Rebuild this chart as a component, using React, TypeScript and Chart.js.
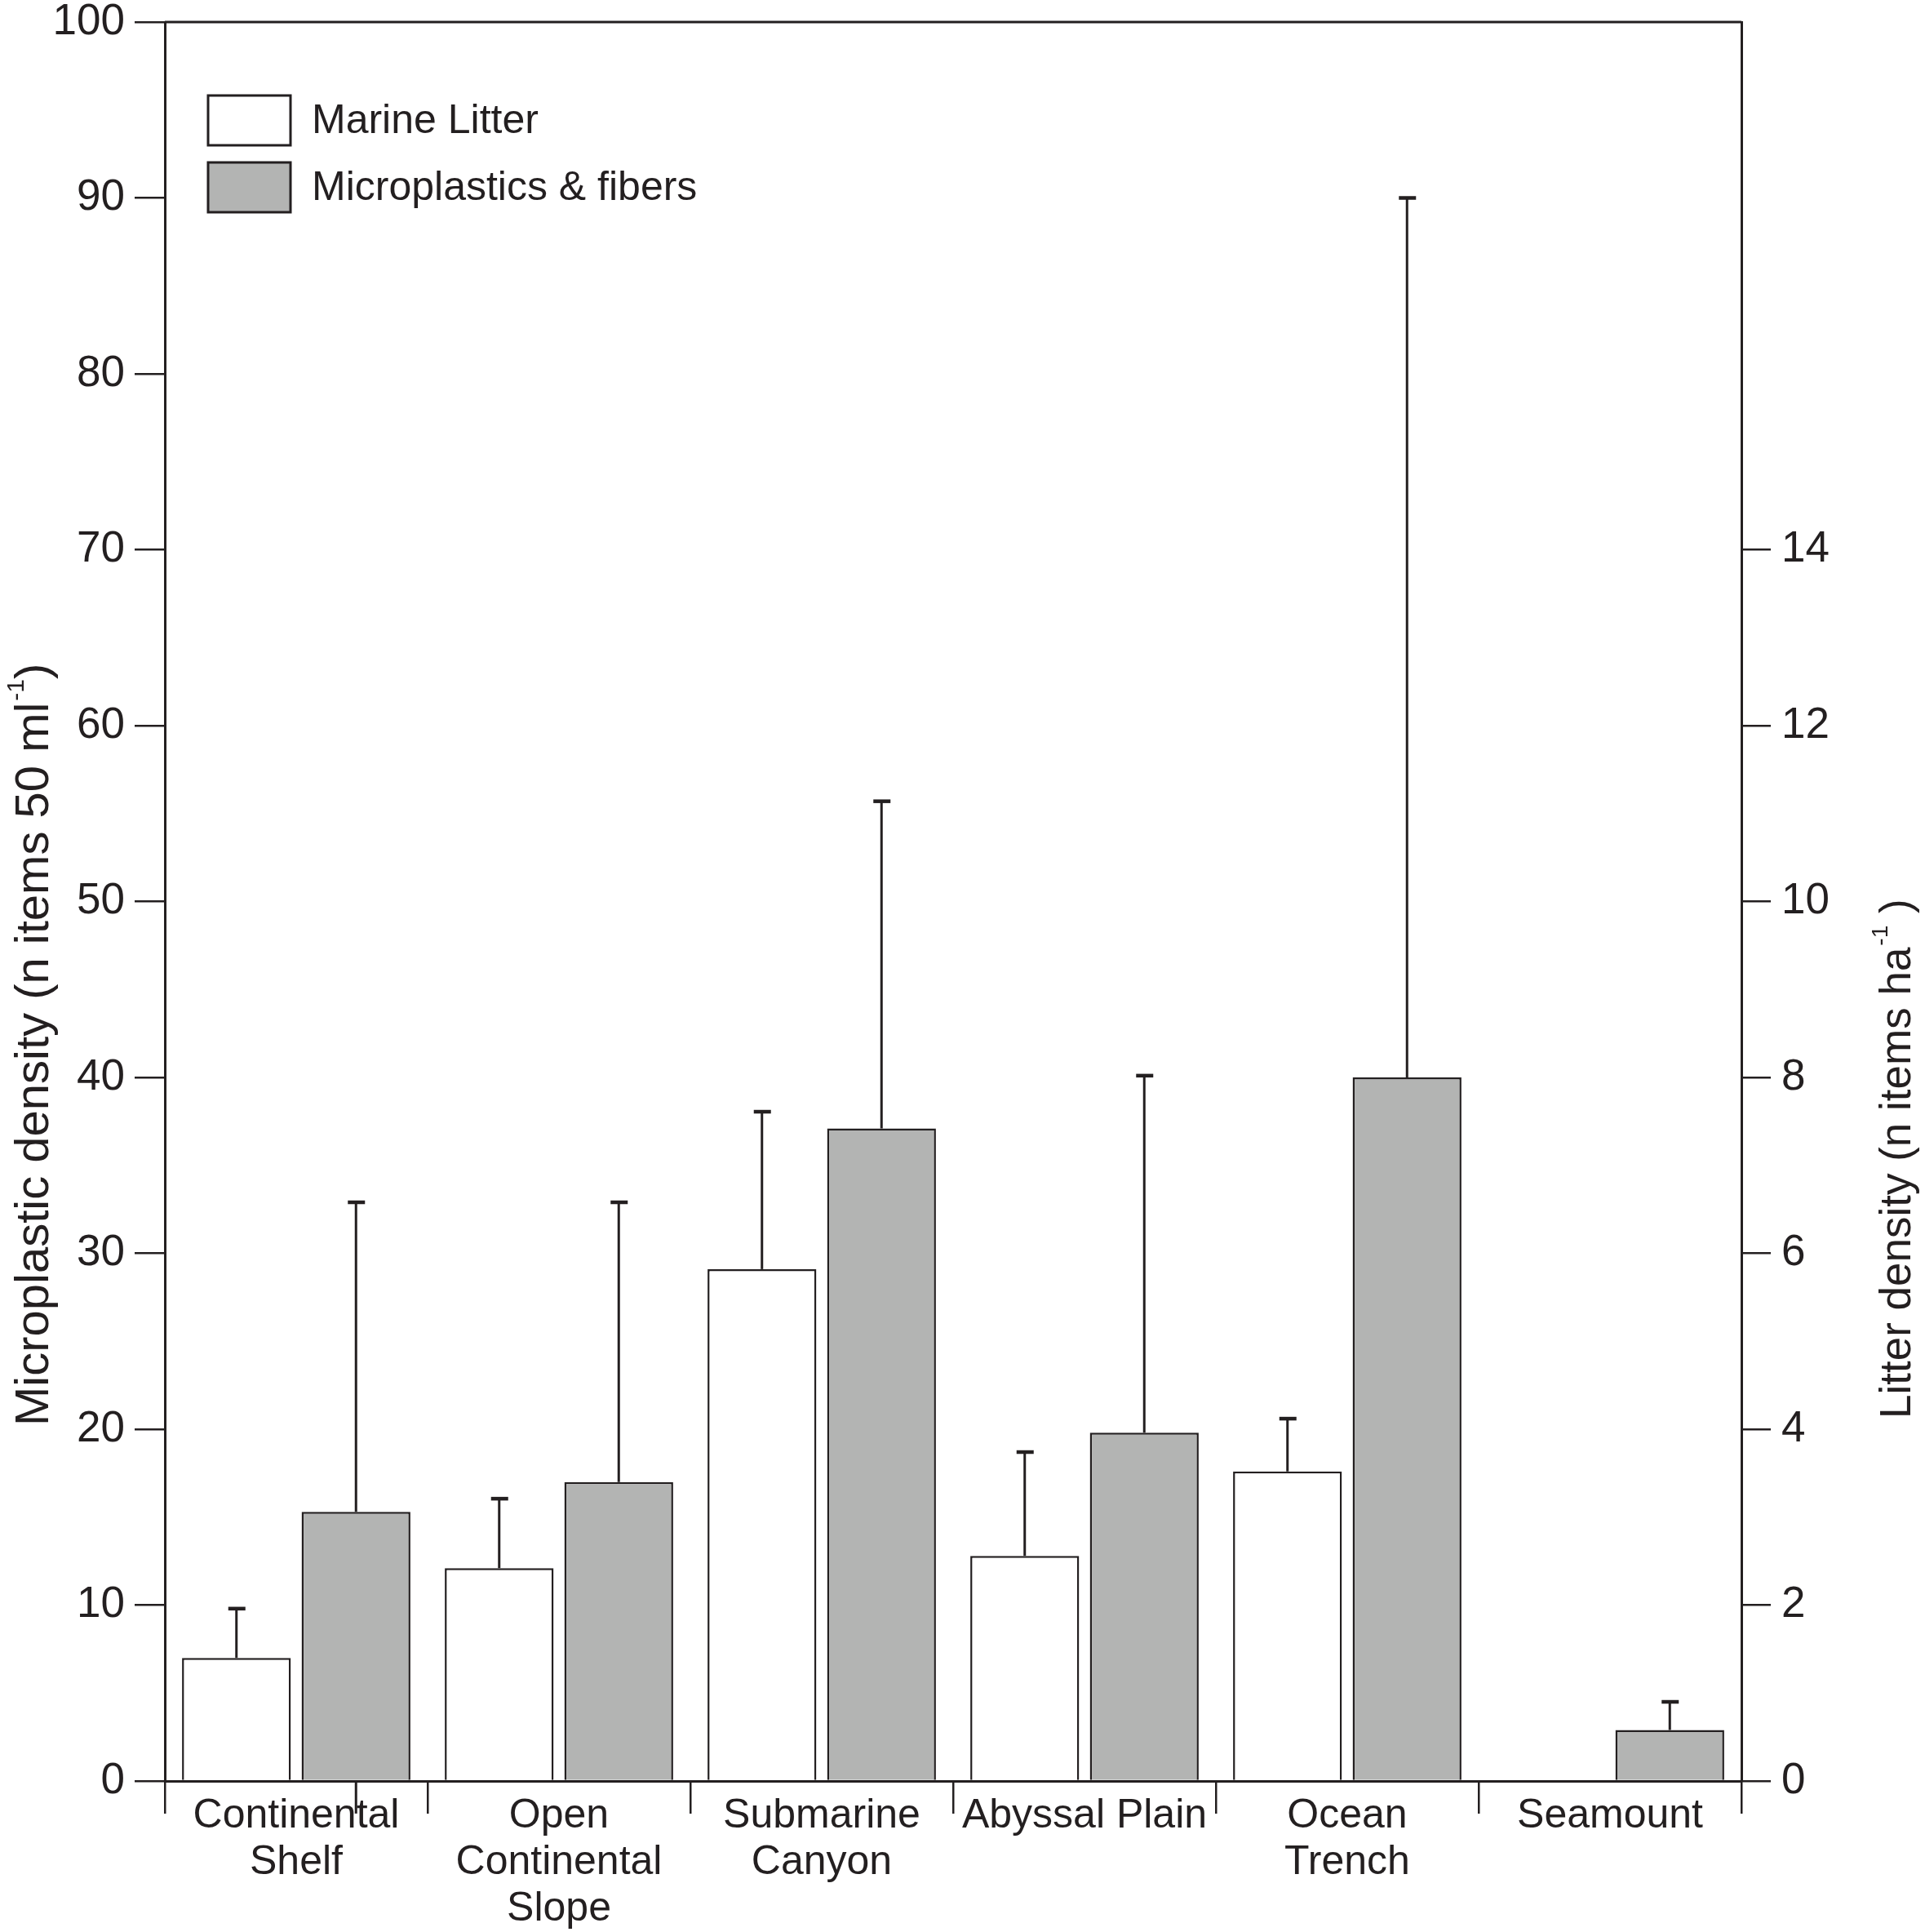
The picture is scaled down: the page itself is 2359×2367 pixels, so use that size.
import React, { useEffect, useRef } from 'react';
import { Chart, registerables } from 'chart.js';

Chart.register(...registerables);

// ---------- data ----------
const categories: string[][] = [
  ['Continental', 'Shelf'],
  ['Open', 'Continental', 'Slope'],
  ['Submarine', 'Canyon'],
  ['Abyssal Plain'],
  ['Ocean', 'Trench'],
  ['Seamount'],
];
const seriesNames = ['Marine Litter', 'Microplastics & fibers'];

// Marine litter (right axis, n items ha-1)
const litterValues: (number | null)[] = [1.4, 2.42, 5.82, 2.56, 3.52, null];
const litterErrUpper: (number | null)[] = [1.96, 3.21, 7.61, 3.74, 4.12, null];

// Microplastics & fibers (left axis, n items 50 ml-1)
const microValues: (number | null)[] = [15.3, 17.0, 37.1, 19.8, 40.0, 2.9];
const microErrUpper: (number | null)[] = [32.9, 32.9, 55.7, 40.1, 90.0, 4.5];
const microErrLower: (number | null)[] = [-1.85, null, null, null, null, null];

const leftTicks = [0, 10, 20, 30, 40, 50, 60, 70, 80, 90, 100];
const rightTicks = [0, 2, 4, 6, 8, 10, 12, 14];
const leftMax = 100;
const rightMax = 20;

// ---------- style ----------
const INK = '#231f20';
const GRAY = '#b3b4b3';
const FONT = '"Liberation Sans", Arial, Helvetica, sans-serif';
const W = 2359;
const H = 2367;

type Part = { t: string; sup?: boolean };
const leftTitle: Part[] = [{ t: 'Microplastic density (n items 50 ml' }, { t: '-1', sup: true }, { t: ')' }];
const rightTitle: Part[] = [{ t: 'Litter density (n items ha' }, { t: '-1', sup: true }, { t: ' )' }];

function drawRotated(ctx: CanvasRenderingContext2D, parts: Part[], x: number, y: number, size: number) {
  ctx.save();
  ctx.translate(x, y);
  ctx.rotate(-Math.PI / 2);
  ctx.fillStyle = INK;
  ctx.textAlign = 'left';
  ctx.textBaseline = 'alphabetic';
  let cx = 0;
  for (const p of parts) {
    if (p.sup) {
      ctx.font = `${Math.round(size * 0.52)}px ${FONT}`;
      ctx.fillText(p.t, cx + 2, -size * 0.52);
      cx += ctx.measureText(p.t).width + 2;
    } else {
      ctx.font = `${size}px ${FONT}`;
      ctx.fillText(p.t, cx, 0);
      cx += ctx.measureText(p.t).width;
    }
  }
  ctx.restore();
}

const decorPlugin = {
  id: 'decor',
  afterDraw(chart: any) {
    const ctx: CanvasRenderingContext2D = chart.ctx;
    const area = chart.chartArea;
    ctx.save();
    // top frame line
    ctx.strokeStyle = INK;
    ctx.lineWidth = 3;
    ctx.beginPath();
    ctx.moveTo(area.left, area.top);
    ctx.lineTo(area.right, area.top);
    ctx.stroke();

    // error bars
    const specs = [
      { ds: 0, axis: 'y1', up: litterErrUpper, low: null as (number | null)[] | null },
      { ds: 1, axis: 'y', up: microErrUpper, low: microErrLower },
    ];
    for (const s of specs) {
      const meta = chart.getDatasetMeta(s.ds);
      const scale = chart.scales[s.axis];
      meta.data.forEach((el: any, i: number) => {
        const v = chart.data.datasets[s.ds].data[i];
        if (v === null || v === undefined) return;
        const up = s.up[i];
        ctx.strokeStyle = INK;
        if (up !== null && up !== undefined) {
          const yTop = scale.getPixelForValue(up);
          ctx.lineWidth = 3;
          ctx.beginPath();
          ctx.moveTo(el.x, el.y);
          ctx.lineTo(el.x, yTop);
          ctx.stroke();
          ctx.lineWidth = 4.5;
          ctx.beginPath();
          ctx.moveTo(el.x - 10, yTop);
          ctx.lineTo(el.x + 11, yTop);
          ctx.stroke();
        }
        const low = s.low ? s.low[i] : null;
        if (low !== null && low !== undefined) {
          ctx.lineWidth = 3;
          ctx.beginPath();
          ctx.moveTo(el.x, scale.getPixelForValue(0));
          ctx.lineTo(el.x, scale.getPixelForValue(low));
          ctx.stroke();
        }
      });
    }

    // legend
    const lx = 255;
    const boxes = [117, 199];
    chart.data.datasets.forEach((ds: any, i: number) => {
      const by = boxes[i];
      ctx.fillStyle = ds.backgroundColor;
      ctx.fillRect(lx, by, 101, 61);
      ctx.lineWidth = 3;
      ctx.strokeStyle = INK;
      ctx.strokeRect(lx, by, 101, 61);
      ctx.fillStyle = INK;
      ctx.font = `50px ${FONT}`;
      ctx.textAlign = 'left';
      ctx.textBaseline = 'middle';
      ctx.fillText(ds.label, lx + 127, by + 32);
    });

    // axis titles
    drawRotated(ctx, leftTitle, 59, 1747, 58);
    drawRotated(ctx, rightTitle, 2341, 1738, 53);
    ctx.restore();
  },
};

export default function App() {
  const ref = useRef<HTMLCanvasElement | null>(null);
  useEffect(() => {
    if (!ref.current) return;
    const chart = new Chart(ref.current, {
      type: 'bar',
      data: {
        labels: categories,
        datasets: [
          {
            label: seriesNames[0],
            data: litterValues,
            yAxisID: 'y1',
            backgroundColor: '#ffffff',
            borderColor: INK,
            borderWidth: 2.5,
            categoryPercentage: 0.91,
            barPercentage: 0.91,
          },
          {
            label: seriesNames[1],
            data: microValues,
            yAxisID: 'y',
            backgroundColor: GRAY,
            borderColor: INK,
            borderWidth: 2.5,
            categoryPercentage: 0.91,
            barPercentage: 0.91,
          },
        ],
      },
      options: {
        animation: false,
        responsive: false,
        devicePixelRatio: 1,
        layout: { padding: { top: 27, left: 0, right: 0, bottom: 0 } },
        plugins: { legend: { display: false }, tooltip: { enabled: false } },
        scales: {
          x: {
            type: 'category',
            offset: true,
            grid: {
              display: true,
              offset: true,
              drawOnChartArea: false,
              drawTicks: true,
              tickLength: 40,
              color: INK,
              lineWidth: 2.5,
            },
            border: { display: true, color: INK, width: 3 },
            ticks: {
              color: INK,
              font: { family: FONT, size: 50, lineHeight: 1.14 },
              padding: -25,
              maxRotation: 0,
              minRotation: 0,
              autoSkip: false,
            },
            afterFit: (s: any) => {
              s.height = H - 2182;
              s.paddingLeft = 0;
              s.paddingRight = 0;
            },
          },
          y: {
            position: 'left',
            min: 0,
            max: leftMax,
            afterBuildTicks: (s: any) => {
              s.ticks = leftTicks.map((v) => ({ value: v }));
            },
            grid: { drawOnChartArea: false, drawTicks: true, tickLength: 37, color: INK, lineWidth: 2.5 },
            border: { display: true, color: INK, width: 3 },
            ticks: { color: INK, font: { family: FONT, size: 53 }, padding: 12 },
            afterFit: (s: any) => {
              s.width = 202;
              s.paddingTop = 0;
              s.paddingBottom = 0;
            },
          },
          y1: {
            position: 'right',
            min: 0,
            max: rightMax,
            afterBuildTicks: (s: any) => {
              s.ticks = rightTicks.map((v) => ({ value: v }));
            },
            grid: { drawOnChartArea: false, drawTicks: true, tickLength: 36, color: INK, lineWidth: 2.5 },
            border: { display: true, color: INK, width: 3 },
            ticks: { color: INK, font: { family: FONT, size: 53 }, padding: 13 },
            afterFit: (s: any) => {
              s.width = W - 2134;
              s.paddingTop = 0;
              s.paddingBottom = 0;
            },
          },
        },
      } as any,
      plugins: [decorPlugin],
    });
    return () => chart.destroy();
  }, []);
  return (
    <div style={{ position: 'fixed', left: 0, top: 0, width: W, height: H, background: '#ffffff' }}>
      <canvas ref={ref} width={W} height={H} style={{ width: W, height: H, display: 'block' }} />
    </div>
  );
}
